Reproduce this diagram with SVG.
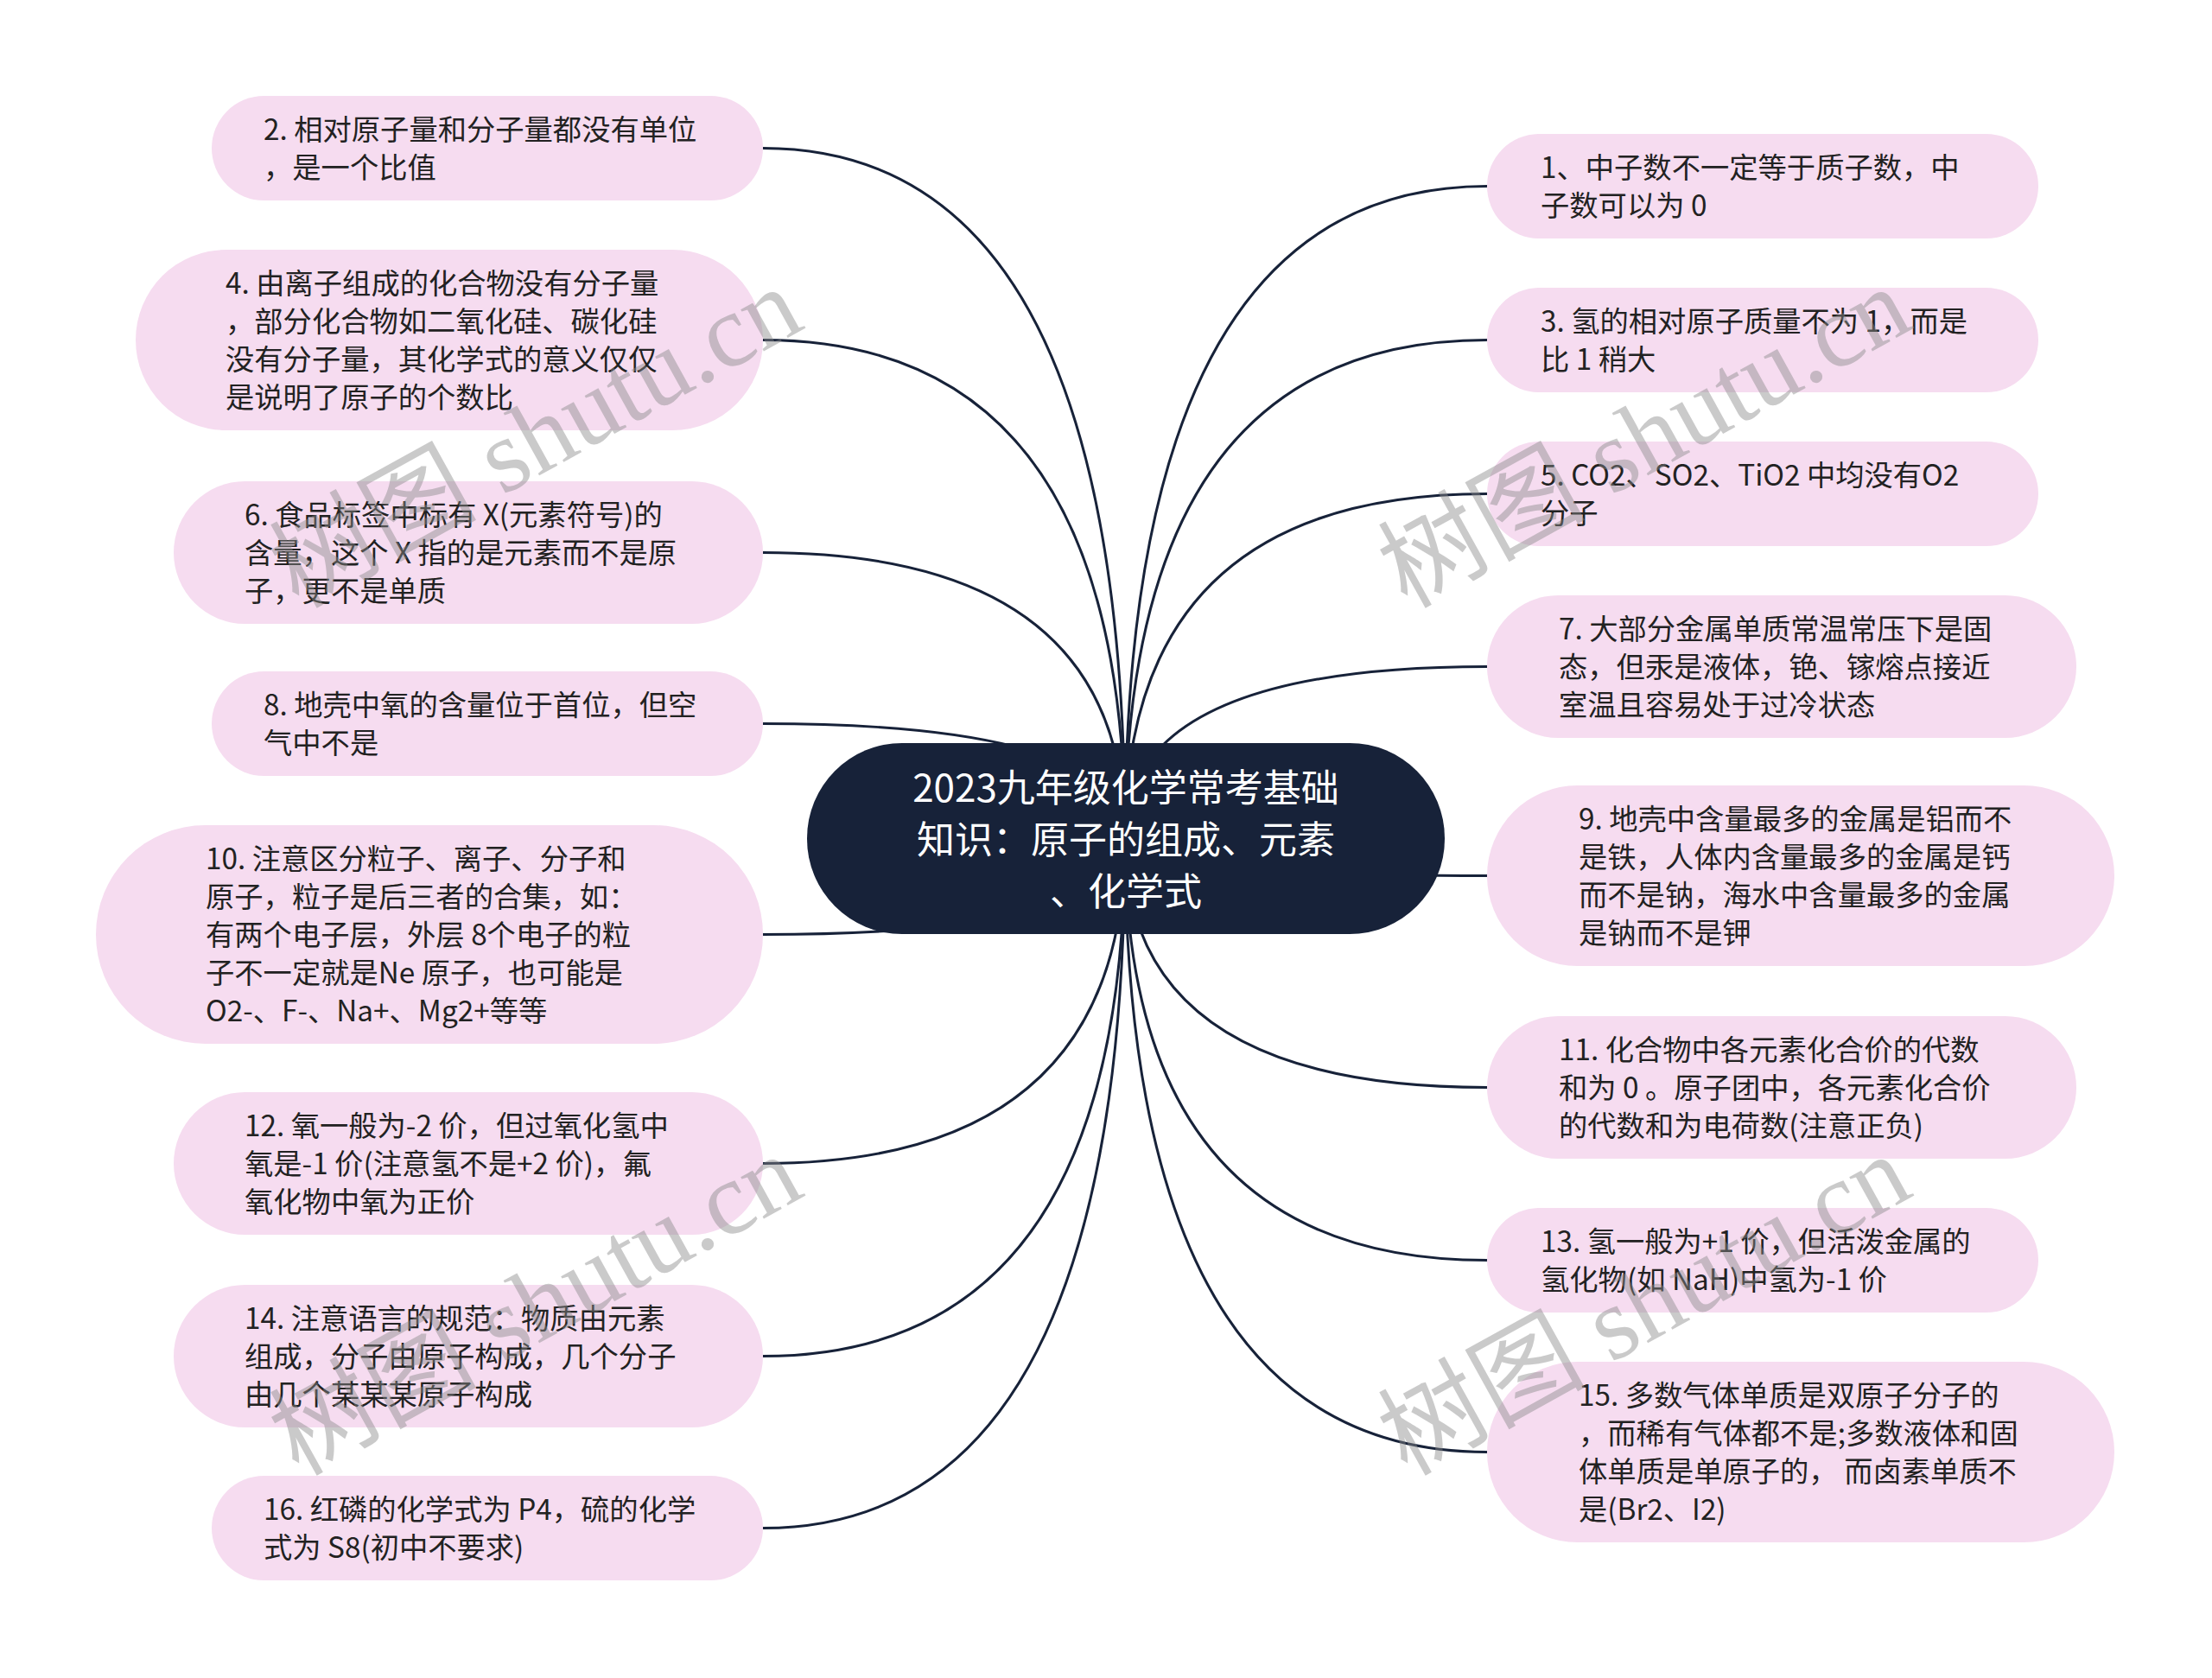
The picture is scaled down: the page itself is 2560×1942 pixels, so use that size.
<svg xmlns="http://www.w3.org/2000/svg" width="2560" height="1942" viewBox="0 0 2560 1942">
<style>
.bg{fill:#ffffff}
.leaf rect{fill:#f6dcf0}
.leaf text{font-family:"Noto Sans CJK SC","Noto Sans",sans-serif;font-size:33.3px;fill:#222222}
.root rect{fill:#172239}
.root text{font-family:"Noto Sans CJK SC","Noto Sans",sans-serif;font-size:44px;fill:#ffffff;text-anchor:middle}
.edges path{fill:none;stroke:#172239;stroke-width:3}
.wm text{font-family:"Liberation Serif","Noto Sans CJK SC",serif;font-size:120px;fill:#8a8a8a;fill-opacity:0.45}
</style>
<rect class="bg" x="0" y="0" width="2560" height="1942"/>
<g id="connectors" class="edges">
<path d="M1302,970 Q1302,171.5 883,171.5"/>
<path d="M1302,970 Q1302,393.5 883,393.5"/>
<path d="M1302,970 Q1302,639.5 883,639.5"/>
<path d="M1302,970 Q1302,837.5 883,837.5"/>
<path d="M1302,970 Q1302,1081.5 883,1081.5"/>
<path d="M1302,970 Q1302,1346.5 883,1346.5"/>
<path d="M1302,970 Q1302,1569.5 883,1569.5"/>
<path d="M1302,970 Q1302,1768.5 883,1768.5"/>
<path d="M1302,970 Q1302,215.5 1721,215.5"/>
<path d="M1302,970 Q1302,393.5 1721,393.5"/>
<path d="M1302,970 Q1302,571.5 1721,571.5"/>
<path d="M1302,970 Q1302,771.5 1721,771.5"/>
<path d="M1302,970 Q1302,1013.5 1721,1013.5"/>
<path d="M1302,970 Q1302,1258.5 1721,1258.5"/>
<path d="M1302,970 Q1302,1458.5 1721,1458.5"/>
<path d="M1302,970 Q1302,1680.5 1721,1680.5"/>
</g>
<g id="root" class="root">
<rect x="934" y="860" width="738" height="221" rx="110" ry="110"/>
<text x="1303" y="928">2023九年级化学常考基础</text>
<text x="1303" y="988">知识：原子的组成、元素</text>
<text x="1303" y="1048">、化学式</text>
</g>
<g id="n2" class="leaf">
<rect x="245" y="111" width="638" height="121" rx="60.5"/>
<text x="305" y="162">2. 相对原子量和分子量都没有单位</text>
<text x="305" y="206">，是一个比值</text>
</g>
<g id="n4" class="leaf">
<rect x="157" y="289" width="726" height="209" rx="104.5"/>
<text x="261" y="340">4. 由离子组成的化合物没有分子量</text>
<text x="261" y="384">，部分化合物如二氧化硅、碳化硅</text>
<text x="261" y="428">没有分子量，其化学式的意义仅仅</text>
<text x="261" y="472">是说明了原子的个数比</text>
</g>
<g id="n6" class="leaf">
<rect x="201" y="557" width="682" height="165" rx="82.5"/>
<text x="283" y="608">6. 食品标签中标有 X(元素符号)的</text>
<text x="283" y="652">含量，这个 X 指的是元素而不是原</text>
<text x="283" y="696">子，更不是单质</text>
</g>
<g id="n8" class="leaf">
<rect x="245" y="777" width="638" height="121" rx="60.5"/>
<text x="305" y="828">8. 地壳中氧的含量位于首位，但空</text>
<text x="305" y="872">气中不是</text>
</g>
<g id="n10" class="leaf">
<rect x="111" y="955" width="772" height="253" rx="126.5"/>
<text x="238" y="1006">10. 注意区分粒子、离子、分子和</text>
<text x="238" y="1050">原子，粒子是后三者的合集，如：</text>
<text x="238" y="1094">有两个电子层，外层 8个电子的粒</text>
<text x="238" y="1138">子不一定就是Ne 原子，也可能是</text>
<text x="238" y="1182">O2-、F-、Na+、Mg2+等等</text>
</g>
<g id="n12" class="leaf">
<rect x="201" y="1264" width="682" height="165" rx="82.5"/>
<text x="283" y="1315">12. 氧一般为-2 价，但过氧化氢中</text>
<text x="283" y="1359">氧是-1 价(注意氢不是+2 价)，氟</text>
<text x="283" y="1403">氧化物中氧为正价</text>
</g>
<g id="n14" class="leaf">
<rect x="201" y="1487" width="682" height="165" rx="82.5"/>
<text x="283" y="1538">14. 注意语言的规范：物质由元素</text>
<text x="283" y="1582">组成，分子由原子构成，几个分子</text>
<text x="283" y="1626">由几个某某某原子构成</text>
</g>
<g id="n16" class="leaf">
<rect x="245" y="1708" width="638" height="121" rx="60.5"/>
<text x="305" y="1759">16. 红磷的化学式为 P4，硫的化学</text>
<text x="305" y="1803">式为 S8(初中不要求)</text>
</g>
<g id="n1" class="leaf">
<rect x="1721" y="155" width="638" height="121" rx="60.5"/>
<text x="1783" y="206">1、中子数不一定等于质子数，中</text>
<text x="1783" y="250">子数可以为 0</text>
</g>
<g id="n3" class="leaf">
<rect x="1721" y="333" width="638" height="121" rx="60.5"/>
<text x="1783" y="384">3. 氢的相对原子质量不为 1，而是</text>
<text x="1783" y="428">比 1 稍大</text>
</g>
<g id="n5" class="leaf">
<rect x="1721" y="511" width="638" height="121" rx="60.5"/>
<text x="1783" y="562">5. CO2、SO2、TiO2 中均没有O2</text>
<text x="1783" y="606">分子</text>
</g>
<g id="n7" class="leaf">
<rect x="1721" y="689" width="682" height="165" rx="82.5"/>
<text x="1804" y="740">7. 大部分金属单质常温常压下是固</text>
<text x="1804" y="784">态，但汞是液体，铯、镓熔点接近</text>
<text x="1804" y="828">室温且容易处于过冷状态</text>
</g>
<g id="n9" class="leaf">
<rect x="1721" y="909" width="726" height="209" rx="104.5"/>
<text x="1827" y="960">9. 地壳中含量最多的金属是铝而不</text>
<text x="1827" y="1004">是铁，人体内含量最多的金属是钙</text>
<text x="1827" y="1048">而不是钠，海水中含量最多的金属</text>
<text x="1827" y="1092">是钠而不是钾</text>
</g>
<g id="n11" class="leaf">
<rect x="1721" y="1176" width="682" height="165" rx="82.5"/>
<text x="1804" y="1227">11. 化合物中各元素化合价的代数</text>
<text x="1804" y="1271">和为 0 。原子团中，各元素化合价</text>
<text x="1804" y="1315">的代数和为电荷数(注意正负)</text>
</g>
<g id="n13" class="leaf">
<rect x="1721" y="1398" width="638" height="121" rx="60.5"/>
<text x="1783" y="1449">13. 氢一般为+1 价，但活泼金属的</text>
<text x="1783" y="1493">氢化物(如 NaH)中氢为-1 价</text>
</g>
<g id="n15" class="leaf">
<rect x="1721" y="1576" width="726" height="209" rx="104.5"/>
<text x="1827" y="1627">15. 多数气体单质是双原子分子的</text>
<text x="1827" y="1671">，而稀有气体都不是;多数液体和固</text>
<text x="1827" y="1715">体单质是单原子的， 而卤素单质不</text>
<text x="1827" y="1759">是(Br2、I2)</text>
</g>
<g id="watermarks" class="wm">
<text transform="translate(345,705) rotate(-29)">树图 shutu.cn</text>
<text transform="translate(1628,705) rotate(-29)">树图 shutu.cn</text>
<text transform="translate(345,1709) rotate(-29)">树图 shutu.cn</text>
<text transform="translate(1628,1709) rotate(-29)">树图 shutu.cn</text>
</g>
</svg>
